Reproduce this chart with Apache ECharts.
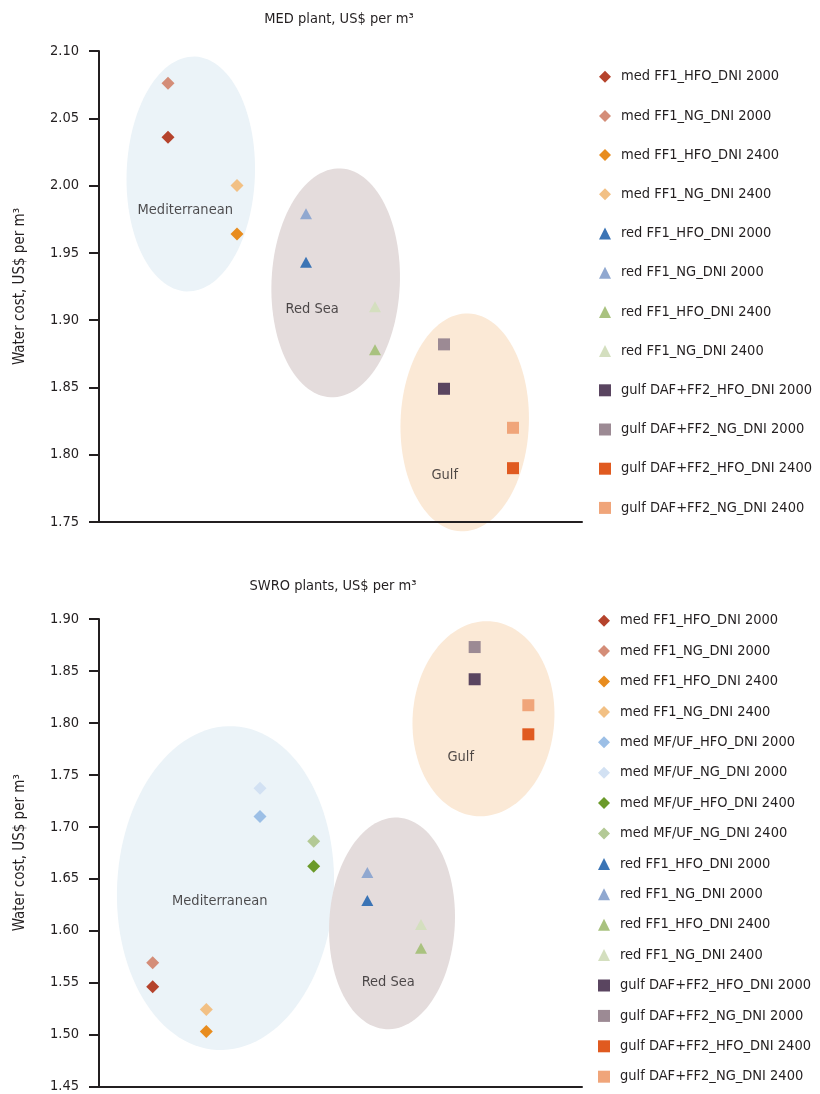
<!DOCTYPE html>
<html><head><meta charset="utf-8">
<script src="https://cdn.jsdelivr.net/npm/echarts@6/dist/echarts.min.js"></script>
<style>html,body{margin:0;padding:0;background:#fff}#c{width:820px;height:1094px}</style>
</head><body><div id="c"></div>
<script>
// ---------- DATA ----------
const medTitle = 'MED plant, US$ per m³';
const swroTitle = 'SWRO plants, US$ per m³';
const yName = 'Water cost, US$ per m³';

const medNames = ['med FF1_HFO_DNI 2000','med FF1_NG_DNI 2000','med FF1_HFO_DNI 2400','med FF1_NG_DNI 2400',
  'red FF1_HFO_DNI 2000','red FF1_NG_DNI 2000','red FF1_HFO_DNI 2400','red FF1_NG_DNI 2400',
  'gulf DAF+FF2_HFO_DNI 2000','gulf DAF+FF2_NG_DNI 2000','gulf DAF+FF2_HFO_DNI 2400','gulf DAF+FF2_NG_DNI 2400'];
const medX = [1,1,2,2,3,3,4,4,5,5,6,6];
const medCost = [2.036,2.076,1.964,2.000,1.943,1.979,1.878,1.910,1.849,1.882,1.790,1.820];
const medYMin = 1.75, medYMax = 2.10, medXMax = 7;

const swroNames = ['med FF1_HFO_DNI 2000','med FF1_NG_DNI 2000','med FF1_HFO_DNI 2400','med FF1_NG_DNI 2400',
  'med MF/UF_HFO_DNI 2000','med MF/UF_NG_DNI 2000','med MF/UF_HFO_DNI 2400','med MF/UF_NG_DNI 2400',
  'red FF1_HFO_DNI 2000','red FF1_NG_DNI 2000','red FF1_HFO_DNI 2400','red FF1_NG_DNI 2400',
  'gulf DAF+FF2_HFO_DNI 2000','gulf DAF+FF2_NG_DNI 2000','gulf DAF+FF2_HFO_DNI 2400','gulf DAF+FF2_NG_DNI 2400'];
const swroX = [1,1,2,2,3,3,4,4,5,5,6,6,7,7,8,8];
const swroCost = [1.546,1.569,1.503,1.524,1.710,1.737,1.662,1.686,1.629,1.656,1.583,1.606,1.842,1.873,1.789,1.817];
const swroYMin = 1.45, swroYMax = 1.90, swroXMax = 9;
const yStep = 0.05;

// region ellipses (data units): centre x, centre y, x radius, y radius
const regionNames = ['Mediterranean','Red Sea','Gulf'];
const medRegionCx = [1.33, 3.43, 5.30];
const medRegionCy = [2.0086, 1.9277, 1.824];
const medRegionRx = [0.93, 0.93, 0.93];
const medRegionRy = [0.0873, 0.0851, 0.081];
const medLabelX = [1.25, 3.09, 5.01];
const medLabelY = [1.982, 1.908, 1.785];

const swroRegionCx = [2.357, 5.46, 7.164];
const swroRegionCy = [1.641, 1.607, 1.804];
const swroRegionRx = [2.02, 1.17, 1.32];
const swroRegionRy = [0.156, 0.102, 0.094];
const swroLabelX = [2.25, 5.39, 6.74];
const swroLabelY = [1.628, 1.550, 1.767];

// ---------- STYLE ----------
const FONT = "'Liberation Sans Narrow','DejaVu Sans Condensed','Roboto Condensed',sans-serif";
const FS = 14.5;
const TXT = '#231f20';
const COLORS = {
  'med FF1_HFO_DNI 2000':'#b5432c','med FF1_NG_DNI 2000':'#d48d78',
  'med FF1_HFO_DNI 2400':'#e88c1e','med FF1_NG_DNI 2400':'#f2c084',
  'med MF/UF_HFO_DNI 2000':'#9cbfe6','med MF/UF_NG_DNI 2000':'#d2e1f3',
  'med MF/UF_HFO_DNI 2400':'#6b9a2a','med MF/UF_NG_DNI 2400':'#b3c995',
  'red FF1_HFO_DNI 2000':'#3b74b5','red FF1_NG_DNI 2000':'#90a8d0',
  'red FF1_HFO_DNI 2400':'#a9c27f','red FF1_NG_DNI 2400':'#d4dfbf',
  'gulf DAF+FF2_HFO_DNI 2000':'#5a4560','gulf DAF+FF2_NG_DNI 2000':'#9c8a94',
  'gulf DAF+FF2_HFO_DNI 2400':'#e05a20','gulf DAF+FF2_NG_DNI 2400':'#f0a57a'
};
const REGION_FILL = ['#ebf3f8','#e4dcdc','#fbe9d6'];
const MED_TILT = [2, 2.5, 2];
const SWRO_TILT = [3, 3.3, 4];
function symFor(n){ return n.startsWith('med') ? 'diamond' : n.startsWith('red') ? 'triangle' : 'rect'; }
function sizeFor(n){ return n.startsWith('med') ? 13 : n.startsWith('red') ? [12,11] : 12; }

const chart = echarts.init(document.getElementById('c'), null, {renderer:'canvas'});

function makeAxesY(gi, mn, mx){
  return {type:'value', gridIndex:gi, min:mn, max:mx, interval:yStep,
    name:yName, nameLocation:'middle', nameGap:71, nameRotate:90,
    nameTextStyle:{fontFamily:FONT, fontSize:15, color:TXT},
    axisLine:{show:true, lineStyle:{color:TXT, width:2}},
    axisTick:{show:true, length:10, lineStyle:{color:TXT, width:2}},
    axisLabel:{fontFamily:FONT, fontSize:FS, color:TXT, margin:20, formatter:v=>v.toFixed(2)},
    splitLine:{show:false}, z:3};
}
function makeAxesX(gi, mx){
  return {type:'value', gridIndex:gi, min:0, max:mx, interval:1,
    axisLine:{show:true, onZero:false, lineStyle:{color:TXT, width:2}},
    axisTick:{show:false}, axisLabel:{show:false}, splitLine:{show:false}, z:3};
}
function ellipseSeries(ai, cx, cy, rx, ry, tilts){
  return {type:'custom', xAxisIndex:ai, yAxisIndex:ai, z:1, silent:true, clip:false,
    data: cx.map((v,i)=>[v, cy[i], rx[i], ry[i]]),
    renderItem:(params, api)=>{
      const c = api.coord([api.value(0), api.value(1)]);
      const s = api.size([api.value(2), api.value(3)]);
      const a = tilts[params.dataIndex]*Math.PI/180, ca=Math.cos(a), sa=Math.sin(a);
      const pts=[];
      for(let k=0;k<120;k++){const t=k/120*2*Math.PI; const ex=s[0]*Math.cos(t), ey=s[1]*Math.sin(t);
        pts.push([c[0]+ex*ca-ey*sa, c[1]+ex*sa+ey*ca]);}
      return {type:'polygon', shape:{points:pts}, style:{fill:REGION_FILL[params.dataIndex]}};
    }};
}
function labelSeries(ai, lx, ly){
  return {type:'scatter', xAxisIndex:ai, yAxisIndex:ai, z:4, silent:true, symbolSize:0,
    data: lx.map((v,i)=>({value:[v, ly[i]], name:regionNames[i]})),
    label:{show:true, position:'inside', formatter:p=>p.name, fontFamily:FONT, fontSize:FS, color:TXT}};
}
function pointSeries(ai, names, xs, ys){
  return names.map((n,i)=>({type:'scatter', name:n, xAxisIndex:ai, yAxisIndex:ai, z:5,
    symbol:symFor(n), symbolSize:sizeFor(n), itemStyle:{color:COLORS[n], opacity:1},
    data:[[xs[i], ys[i]]]}));
}
function legendFor(names, top, left, gap){
  return {orient:'vertical', left:left, top:top, padding:0, itemGap:gap, itemWidth:12, itemHeight:12,
    selectedMode:false,
    data: names.map(n=>({name:n, icon:symFor(n)})),
    textStyle:{fontFamily:FONT, fontSize:FS, color:TXT, lineHeight:20, padding:[0,0,0,5]}};
}

const option = {
  animation:false,
  backgroundColor:'#fff',
  grid:[{left:99, top:51, width:483, height:471},
        {left:99, top:619, width:483, height:469}],
  xAxis:[makeAxesX(0, medXMax), makeAxesX(1, swroXMax)],
  yAxis:[makeAxesY(0, medYMin, medYMax), makeAxesY(1, swroYMin, swroYMax)],
  legend:[legendFor(medNames, 66.7, 599, 19.2), legendFor(swroNames, 610.7, 598, 10.4)],
  graphic:[
    {type:'text', x:339, y:19, style:{text:medTitle, font:FS+'px '+FONT, fill:TXT, textAlign:'center', textVerticalAlign:'middle'}},
    {type:'text', x:333, y:586, style:{text:swroTitle, font:FS+'px '+FONT, fill:TXT, textAlign:'center', textVerticalAlign:'middle'}}
  ],
  series:[
    ellipseSeries(0, medRegionCx, medRegionCy, medRegionRx, medRegionRy, MED_TILT),
    ellipseSeries(1, swroRegionCx, swroRegionCy, swroRegionRx, swroRegionRy, SWRO_TILT),
    labelSeries(0, medLabelX, medLabelY),
    labelSeries(1, swroLabelX, swroLabelY),
    ...pointSeries(0, medNames, medX, medCost),
    ...pointSeries(1, swroNames, swroX, swroCost)
  ]
};
chart.setOption(option);
</script></body></html>
